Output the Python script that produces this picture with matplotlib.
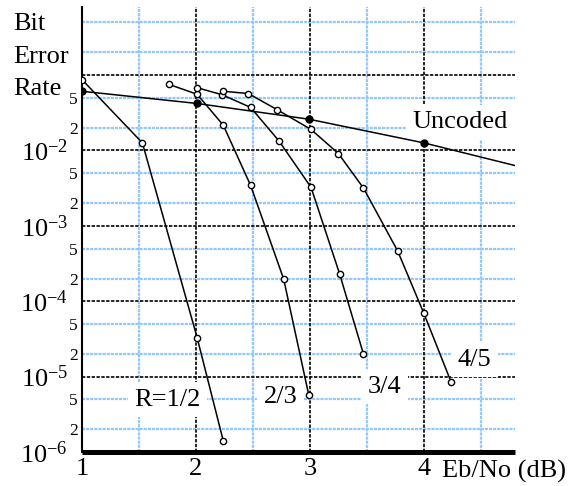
import numpy as np
import matplotlib
matplotlib.use("Agg")
import matplotlib.pyplot as plt
from matplotlib.ticker import FixedLocator

plt.rcParams['font.family'] = ['Liberation Serif', 'DejaVu Serif']
plt.rcParams['mathtext.fontset'] = 'custom'
plt.rcParams['mathtext.rm'] = 'Liberation Serif'

#%% data (Eb/No in dB, BER)
r12_x = [1.00, 1.53, 2.01, 2.24]
r12_y = [0.087, 0.0126, 3.3e-5, 1.4e-6]

r23_x = [1.76, 2.01, 2.24, 2.48, 2.77, 2.99]
r23_y = [0.0755, 0.0557, 0.0216, 3.43e-3, 1.96e-4, 5.7e-6]

r34_x = [2.01, 2.23, 2.48, 2.73, 3.01, 3.26, 3.47]
r34_y = [0.068, 0.0548, 0.0372, 0.0133, 3.24e-3, 2.32e-4, 1.99e-5]

r45_x = [2.24, 2.46, 2.71, 3.01, 3.25, 3.47, 3.77, 4.00, 4.24]
r45_y = [0.061, 0.0569, 0.0349, 0.019, 9.1e-3, 3.17e-3, 4.64e-4, 6.9e-5, 8.4e-6]

unc_x = [1.00, 2.01, 2.99, 4.00]
unc_y = [0.061, 0.042, 0.026, 0.0126]
unc_end_x = 4.81
unc_end_y = 6.25e-3

x_major = [1, 2, 3, 4]
x_minor = [1.5, 2.5, 3.5, 4.5]
y_major = [1e-6, 1e-5, 1e-4, 1e-3, 1e-2, 1e-1]
y_major_labels = [r'$\mathregular{10^{-6}}$', r'$\mathregular{10^{-5}}$',
                  r'$\mathregular{10^{-4}}$', r'$\mathregular{10^{-3}}$',
                  r'$\mathregular{10^{-2}}$', '']
y_minor = [m * 10.0**e for e in range(-6, 0) for m in (2, 5)]
y_minor_labels = [('%d' % round(v / 10**np.floor(np.log10(v)))) if v < 0.09 else ''
                  for v in y_minor]

#%% figure
fig = plt.figure(figsize=(5.75, 4.86), dpi=100)
ax = fig.add_axes([0.1426, 0.07, 0.7531, 0.9156])
ax.set_yscale('log')
ax.set_xlim(1, 4.8)
ax.set_ylim(1e-6, 0.8)

# grid: blue minor lines, black dashed major lines
blue = '#92c8fc'
ax.set_xticks(x_major)
ax.set_xticks(x_minor, minor=True)
ax.yaxis.set_major_locator(FixedLocator(y_major))
ax.yaxis.set_minor_locator(FixedLocator(y_minor))
ax.set_xticklabels([str(v) for v in x_major])
ax.set_yticklabels(y_major_labels)
ax.set_yticklabels(y_minor_labels, minor=True)
ax.set_axisbelow(True)
ax.grid(which='minor', color=blue, lw=1.6, ls=(0, (1.4, 0.45)))
for xv in x_major[1:]:
    ax.axvline(xv, color='black', lw=1.2, ls=(0, (2, 0.9)), zorder=1)
for yv in y_major[1:]:
    ax.axhline(yv, color='black', lw=1.2, ls=(0, (2, 0.9)), zorder=1)

ax.tick_params(which='both', length=0)
ax.tick_params(axis='x', which='major', labelsize=19, pad=4)
ax.tick_params(axis='y', which='major', labelsize=19, pad=10)
ax.tick_params(axis='y', which='minor', labelsize=12.5, pad=3)

for s in ['top', 'right']:
    ax.spines[s].set_visible(False)
ax.spines['left'].set_linewidth(1.5)
ax.spines['bottom'].set_linewidth(3.6)
ax.spines['bottom'].set_capstyle('butt')

# curves
open_kw = dict(color='black', lw=1.1, marker='o', ms=4.5, mfc='white',
               mec='black', mew=1.0, zorder=3)
for xs, ys in [(r12_x, r12_y), (r23_x, r23_y), (r34_x, r34_y), (r45_x, r45_y)]:
    ax.plot(xs, ys, **open_kw)

ax.plot(unc_x + [unc_end_x], unc_y + [unc_end_y], color='black', lw=1.1, zorder=3)
ax.plot(unc_x, unc_y, ls='none', marker='o', ms=5, color='black', zorder=3)

# labels on the curves
box = dict(boxstyle='square,pad=0.25', fc='white', ec='none')
ax.text(4.32, 0.0197, 'Uncoded', fontsize=19, ha='center', va='baseline',
        bbox=box, zorder=2)
ax.text(1.75, 4.1e-6, 'R=1/2', fontsize=19, ha='center', va='baseline',
        bbox=box, zorder=2)
ax.text(2.74, 4.5e-6, '2/3', fontsize=19, ha='center', va='baseline',
        bbox=box, zorder=2)
ax.text(3.654, 6.1e-6, '3/4', fontsize=19, ha='center', va='baseline',
        bbox=box, zorder=2)
ax.text(4.445, 1.39e-5, '4/5', fontsize=19, ha='center', va='baseline',
        bbox=box, zorder=2)

# axis titles
fig.text(0.768, 0.0165, 'Eb/No (dB)', fontsize=19, ha='left', va='baseline')
for txt, yy in [('Bit', 0.938), ('Error', 0.870), ('Rate', 0.805)]:
    fig.text(0.0226, yy, txt, fontsize=19, ha='left', va='baseline')

fig.savefig('out.png', dpi=100)
